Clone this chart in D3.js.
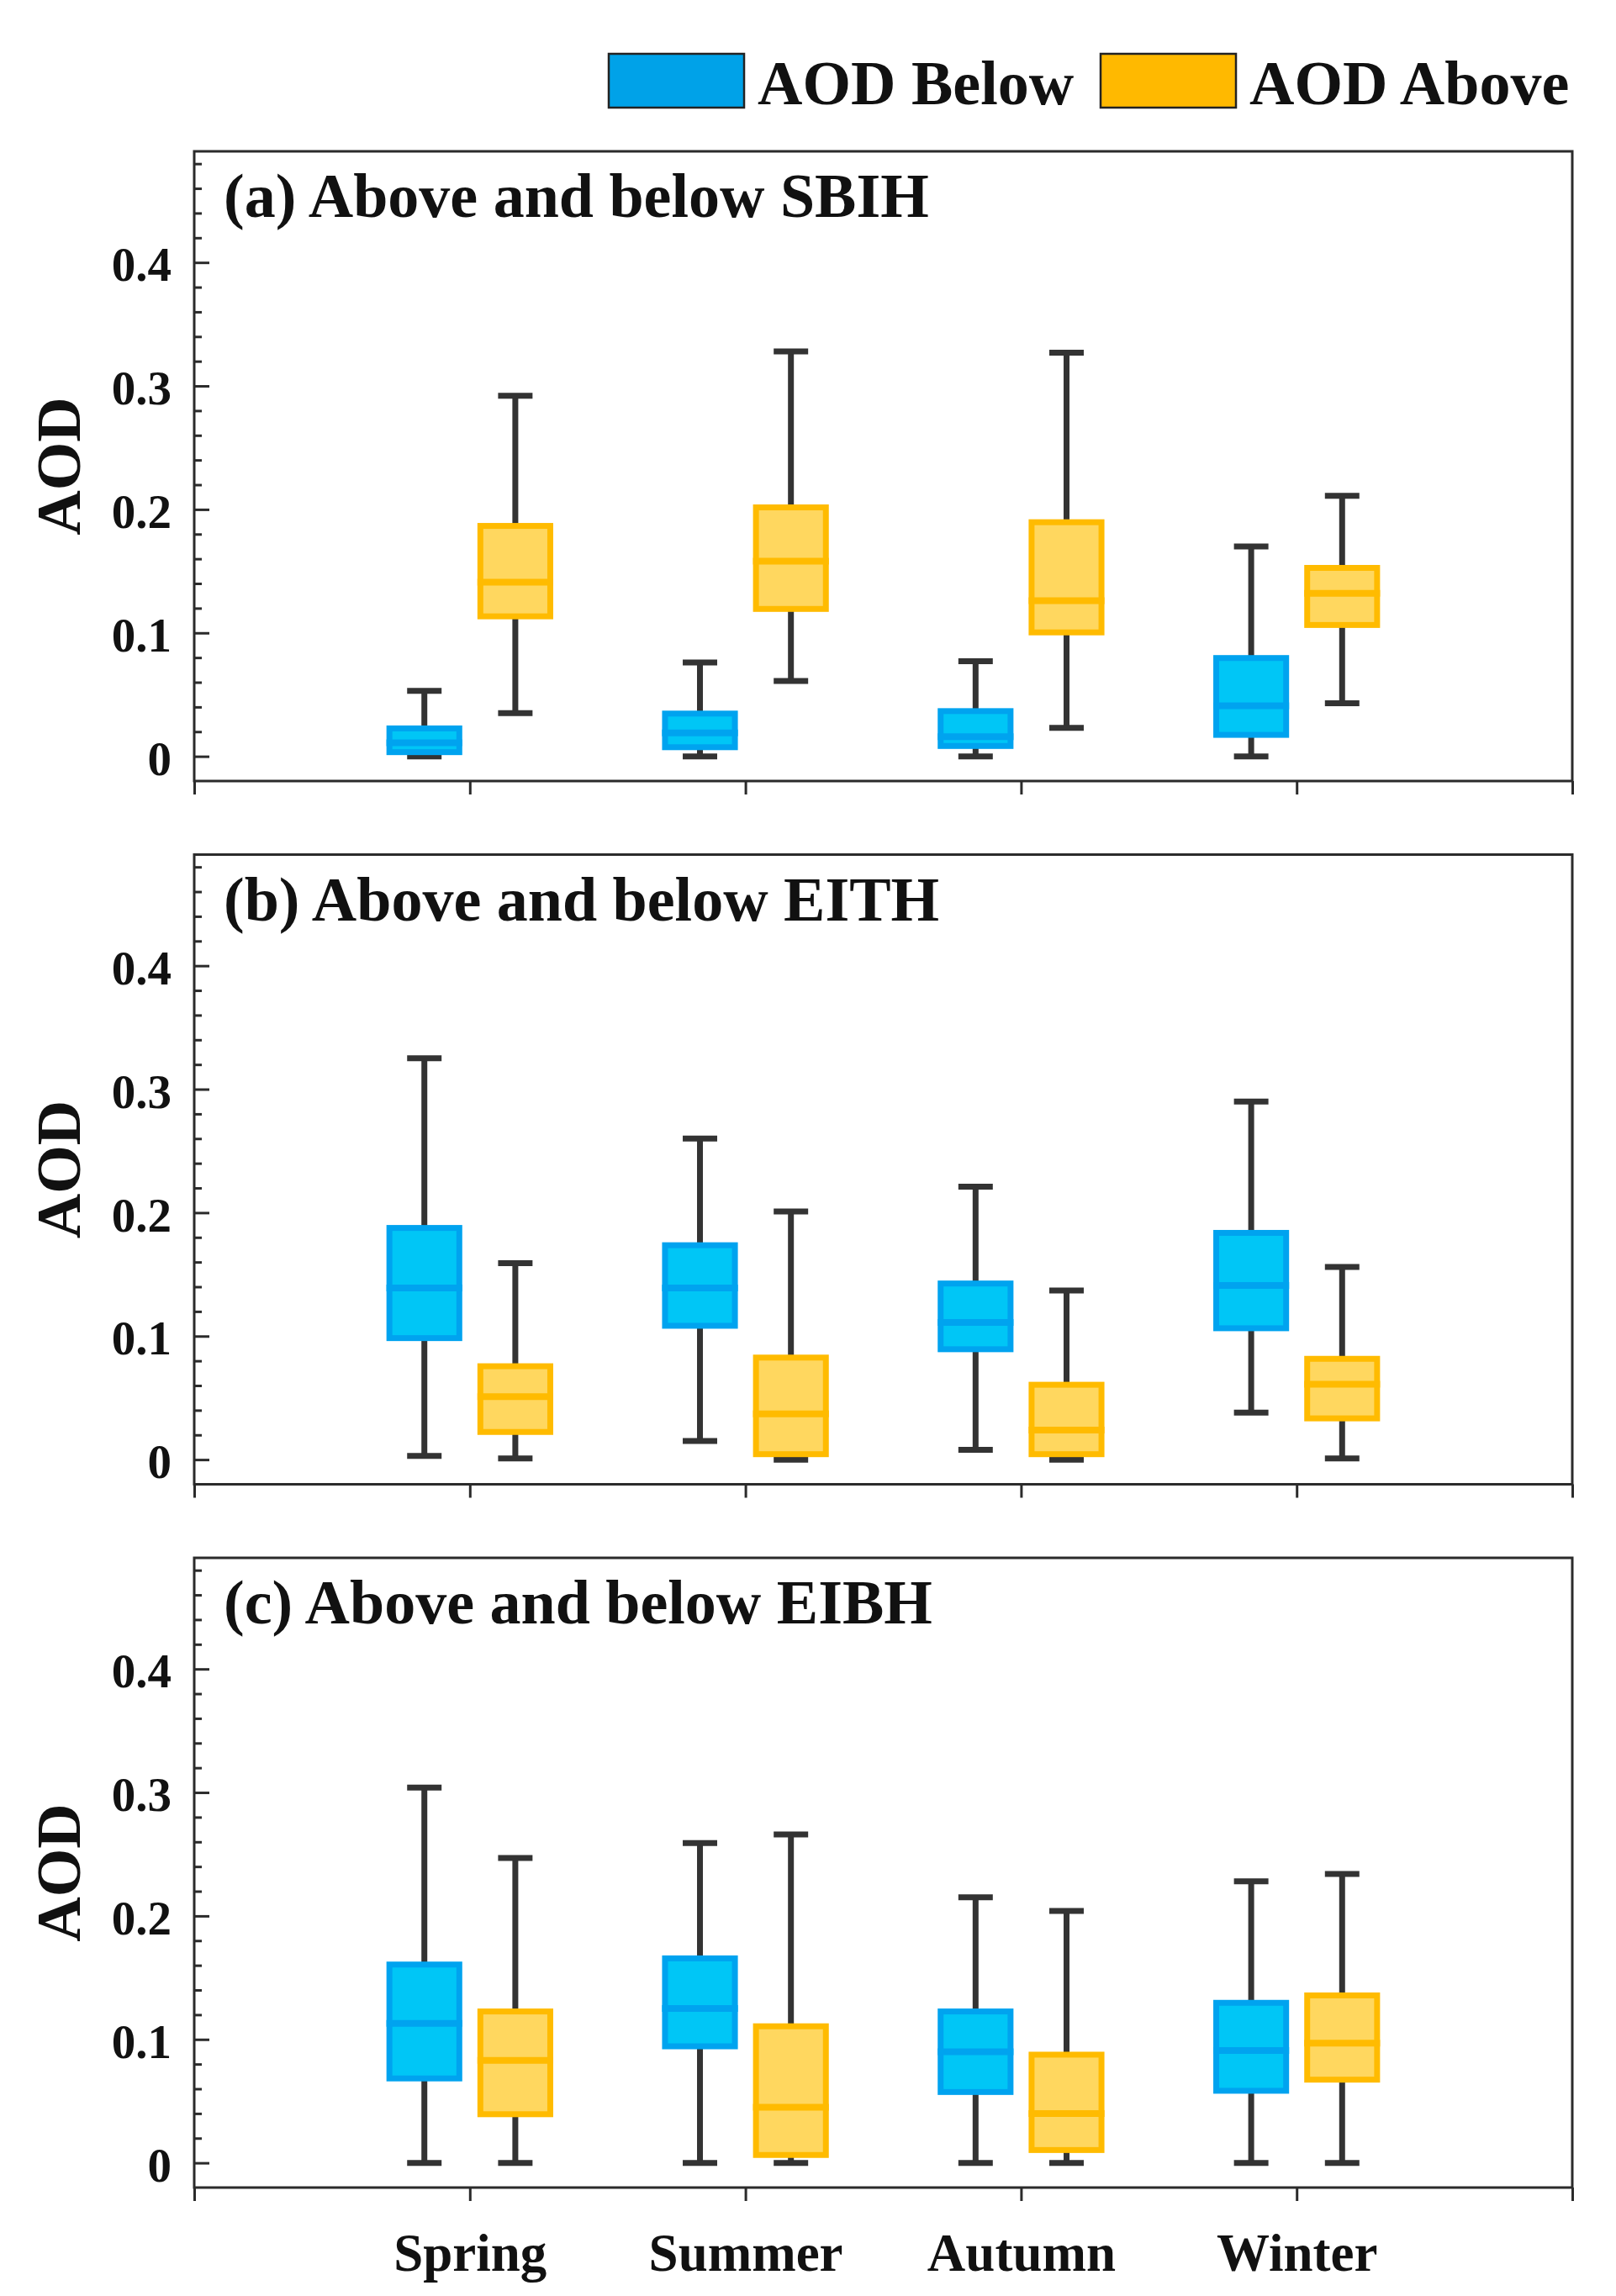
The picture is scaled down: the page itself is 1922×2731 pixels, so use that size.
<!DOCTYPE html>
<html>
<head>
<meta charset="utf-8">
<script src="https://cdn.jsdelivr.net/npm/d3@7"></script>
<style>
  body { margin: 0; background: #fff; }
  text { font-family: "Liberation Serif", "Times New Roman", serif; font-weight: bold; fill: #111; }
</style>
</head>
<body>
<div id="chart"></div>
<script>
// data: each row = [lower whisker, q1, median, q3, upper whisker]
const seasons = ["Spring", "Summer", "Autumn", "Winter"];
const seriesNames = ["AOD Below", "AOD Above"];
const panelTitles = ["(a) Above and below SBIH", "(b) Above and below EITH", "(c) Above and below EIBH"];
const yTicks = [0, 0.1, 0.2, 0.3, 0.4];
const yTickLabels = ["0", "0.1", "0.2", "0.3", "0.4"];

const sbihBelow = [[0, 0.001, 0.011, 0.025, 0.053], [0, 0.005, 0.019, 0.037, 0.076], [0, 0.006, 0.016, 0.039, 0.077], [0, 0.015, 0.041, 0.082, 0.170]];
const sbihAbove = [[0.035, 0.111, 0.141, 0.189, 0.292], [0.061, 0.117, 0.158, 0.204, 0.328], [0.023, 0.098, 0.126, 0.192, 0.327], [0.043, 0.104, 0.132, 0.155, 0.211]];
const eithBelow = [[0.003, 0.096, 0.139, 0.190, 0.325], [0.015, 0.106, 0.139, 0.176, 0.260], [0.008, 0.087, 0.111, 0.145, 0.221], [0.038, 0.104, 0.141, 0.186, 0.290]];
const eithAbove = [[0.001, 0.020, 0.051, 0.078, 0.159], [0, 0.002, 0.037, 0.085, 0.201], [0, 0.002, 0.024, 0.063, 0.137], [0.001, 0.031, 0.061, 0.084, 0.156]];
const eibhBelow = [[0, 0.066, 0.113, 0.163, 0.304], [0, 0.092, 0.125, 0.168, 0.259], [0, 0.055, 0.090, 0.125, 0.215], [0, 0.056, 0.091, 0.132, 0.228]];
const eibhAbove = [[0, 0.037, 0.083, 0.125, 0.247], [0, 0.004, 0.045, 0.113, 0.266], [0, 0.008, 0.040, 0.090, 0.204], [0, 0.065, 0.097, 0.138, 0.234]];

const panels = [
  { title: panelTitles[0], below: sbihBelow, above: sbihAbove },
  { title: panelTitles[1], below: eithBelow, above: eithAbove },
  { title: panelTitles[2], below: eibhBelow, above: eibhAbove }
];

const width = 1922;
const height = 2731;
const left = 231, right = 1870;
const firstTop = 180, panelStep = 836.5, panelH = 749;

const boxStyle = [
  { edge: "#00a3ef", fill: "#00c6f6", legend: "#00a2e8", offset: -0.165 },
  { edge: "#ffbb00", fill: "#ffd75f", legend: "#ffb900", offset: 0.165 }
];
const boxW = 0.275, capW = 0.125;
const axisColor = "#2b2b2b", whiskerColor = "#333333";

const svg = d3.select("#chart").append("svg")
  .attr("width", width)
  .attr("height", height);

svg.append("rect").attr("width", width).attr("height", height).attr("fill", "#fff");

const x = d3.scaleLinear().domain([0, 5]).range([left, right]);

// legend
const legendX = [724, 1309];
seriesNames.forEach((name, i) => {
  svg.append("rect")
    .attr("x", legendX[i]).attr("y", 64)
    .attr("width", 161).attr("height", 64)
    .attr("fill", boxStyle[i].legend)
    .attr("stroke", "#222").attr("stroke-width", 2.5);
  svg.append("text")
    .attr("x", legendX[i] + 177).attr("y", 124)
    .attr("font-size", 74)
    .text(name);
});

panels.forEach((p, pi) => {
  const top = firstTop + pi * panelStep;
  const bottom = top + panelH;
  const y = d3.scaleLinear().domain([-0.02, 0.49]).range([bottom, top]);
  const g = svg.append("g");

  // frame
  g.append("rect")
    .attr("x", left).attr("y", top)
    .attr("width", right - left).attr("height", bottom - top)
    .attr("fill", "none").attr("stroke", axisColor).attr("stroke-width", 3);

  // minor y ticks
  const minor = d3.range(1, 25).map(d => d * 0.02).filter(v => !yTicks.some(t => Math.abs(t - v) < 1e-9));
  g.append("g")
    .attr("transform", `translate(${left},0)`)
    .call(d3.axisLeft(y).tickValues(minor).tickSize(-9).tickSizeOuter(0).tickFormat(""))
    .call(a => a.select(".domain").remove())
    .call(a => a.selectAll("line").attr("stroke", axisColor).attr("stroke-width", 3));

  // major y ticks and labels
  g.append("g")
    .attr("transform", `translate(${left},0)`)
    .call(d3.axisLeft(y).tickValues(yTicks).tickSize(-18).tickSizeOuter(0).tickPadding(27)
      .tickFormat((d, i) => yTickLabels[i]))
    .call(a => a.select(".domain").remove())
    .call(a => a.selectAll("line").attr("stroke", axisColor).attr("stroke-width", 3))
    .call(a => a.selectAll("text")
      .attr("font-size", 57).attr("font-family", null).attr("fill", "#111")
      .attr("dy", "0.38em"));

  // bottom ticks
  g.append("g")
    .attr("transform", `translate(0,${bottom})`)
    .call(d3.axisBottom(x).tickValues([0, 1, 2, 3, 4, 5]).tickSize(16).tickSizeOuter(0).tickFormat(""))
    .call(a => a.select(".domain").remove())
    .call(a => a.selectAll("line").attr("stroke", axisColor).attr("stroke-width", 3));

  // y label
  g.append("text")
    .attr("transform", `translate(95,${(top + bottom) / 2}) rotate(-90)`)
    .attr("text-anchor", "middle")
    .attr("font-size", 74)
    .text("AOD");

  // panel title
  g.append("text")
    .attr("x", 266).attr("y", top + 78)
    .attr("font-size", 74)
    .text(p.title);

  [p.below, p.above].forEach((series, si) => {
    const st = boxStyle[si];
    series.forEach((s, ci) => {
      const cx = x(ci + 1 + st.offset);
      const half = (x(boxW) - x(0)) / 2;
      const capHalf = (x(capW) - x(0)) / 2;
      const [lo, q1, med, q3, hi] = s;

      // whisker + caps (behind box)
      g.append("line")
        .attr("x1", cx).attr("x2", cx).attr("y1", y(lo)).attr("y2", y(hi))
        .attr("stroke", whiskerColor).attr("stroke-width", 7);
      [lo, hi].forEach(v => {
        g.append("line")
          .attr("x1", cx - capHalf).attr("x2", cx + capHalf)
          .attr("y1", y(v)).attr("y2", y(v))
          .attr("stroke", whiskerColor).attr("stroke-width", 7);
      });

      // box: outer edge colour, inner lighter fill
      const inset = 7;
      g.append("rect")
        .attr("x", cx - half).attr("y", y(q3))
        .attr("width", 2 * half).attr("height", y(q1) - y(q3))
        .attr("fill", st.edge);
      const innerH = y(q1) - y(q3) - 2 * inset;
      if (innerH > 0) {
        g.append("rect")
          .attr("x", cx - half + inset).attr("y", y(q3) + inset)
          .attr("width", 2 * half - 2 * inset).attr("height", innerH)
          .attr("fill", st.fill);
      }
      g.append("line")
        .attr("x1", cx - half).attr("x2", cx + half)
        .attr("y1", y(med)).attr("y2", y(med))
        .attr("stroke", st.edge).attr("stroke-width", 8);
    });
  });

  // season labels only under the last panel
  if (pi === panels.length - 1) {
    g.append("g")
      .attr("transform", `translate(0,${bottom})`)
      .call(d3.axisBottom(x).tickValues([1, 2, 3, 4]).tickSize(0).tickPadding(54)
        .tickFormat((d, i) => seasons[i]))
      .call(a => a.select(".domain").remove())
      .call(a => a.selectAll("text")
        .attr("font-size", 63).attr("font-family", null).attr("fill", "#111"));
  }
});
</script>
</body>
</html>
